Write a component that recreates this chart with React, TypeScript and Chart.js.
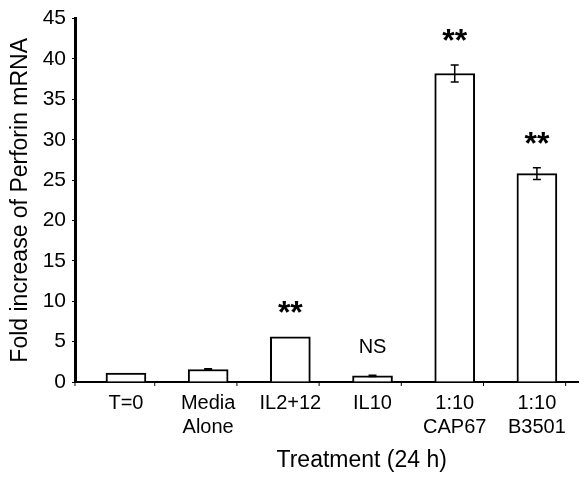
import React, { useEffect, useRef } from "react";
import { Chart, registerables } from "chart.js";

Chart.register(...registerables);

const categories: string[][] = [["T=0"], ["Media", "Alone"], ["IL2+12"], ["IL10"], ["1:10", "CAP67"], ["1:10", "B3501"]];
const foldValues: number[] = [1.1, 1.55, 5.6, 0.75, 38.2, 25.8];
const errorValues: number[] = [0, 0.08, 0, 0.08, 1.05, 0.72];
const significance: string[] = ["", "", "**", "NS", "**", "**"];
const yTicks: number[] = [0, 5, 10, 15, 20, 25, 30, 35, 40, 45];
const xTickMarks: number[] = [-0.62, 0.35, 1.35, 2.35, 3.35, 4.35, 5.35];
const xTitle = "Treatment (24 h)";

const FONT = "Arial, 'Liberation Sans', Helvetica, sans-serif";

const overlayPlugin = {
  id: "overlay",
  afterDatasetsDraw(chart: any) {
    const ctx = chart.ctx;
    const xs = chart.scales.x;
    const ys = chart.scales.y;
    const area = chart.chartArea;
    ctx.save();
    ctx.strokeStyle = "#000";
    ctx.fillStyle = "#000";
    // error bars
    ctx.lineWidth = 1.5;
    foldValues.forEach((v, i) => {
      const e = errorValues[i];
      if (!e) return;
      const x = xs.getPixelForValue(i);
      const yt = ys.getPixelForValue(v + e);
      const yb = ys.getPixelForValue(v - e);
      ctx.beginPath();
      ctx.moveTo(x, yt);
      ctx.lineTo(x, yb);
      ctx.moveTo(x - 4, yt);
      ctx.lineTo(x + 4, yt);
      ctx.moveTo(x - 4, yb);
      ctx.lineTo(x + 4, yb);
      ctx.stroke();
    });
    // x tick marks
    ctx.lineWidth = 1;
    const yBase = ys.getPixelForValue(0);
    xTickMarks.forEach((t) => {
      const x = xs.getPixelForValue(t);
      ctx.beginPath();
      ctx.moveTo(x, yBase);
      ctx.lineTo(x, yBase + 4);
      ctx.stroke();
    });
    // significance marks
    ctx.textAlign = "center";
    ctx.textBaseline = "middle";
    significance.forEach((s, i) => {
      if (!s) return;
      const x = xs.getPixelForValue(i);
      const y = ys.getPixelForValue(foldValues[i] + errorValues[i]);
      if (s === "NS") {
        ctx.font = `20px ${FONT}`;
        ctx.fillText(s, x, y - 28);
      } else {
        ctx.font = `bold 32px ${FONT}`;
        ctx.fillText(s, x, y - 23);
      }
    });
    // x axis title (offset right of centre, as in the original figure)
    ctx.font = `23px ${FONT}`;
    ctx.textBaseline = "middle";
    ctx.fillText(xTitle, area.left + (area.right - area.left) * 0.57, xs.bottom - 21);
    ctx.restore();
  },
};

export default function App() {
  const ref = useRef<HTMLCanvasElement | null>(null);
  useEffect(() => {
    document.body.style.margin = "0";
    if (!ref.current) return;
    const chart = new Chart(ref.current, {
      type: "bar",
      data: {
        datasets: [
          {
            data: foldValues.map((v, i) => ({ x: i, y: v })),
            backgroundColor: "#fff",
            borderColor: "#000",
            borderWidth: 2,
            borderSkipped: "bottom",
            barThickness: 40,
          },
        ],
      },
      options: {
        animation: false,
        responsive: false,
        maintainAspectRatio: false,
        layout: { padding: { top: 13, right: 6, left: 0, bottom: 0 } },
        plugins: { legend: { display: false }, tooltip: { enabled: false } },
        scales: {
          x: {
            type: "linear",
            offset: false,
            min: -0.62,
            max: 5.5,
            afterBuildTicks: (scale: any) => {
              scale.ticks = categories.map((_, i) => ({ value: i }));
            },
            afterFit: (scale: any) => {
              scale.height = 100;
            },
            ticks: {
              color: "#000",
              font: { family: FONT, size: 20 },
              padding: 9,
              maxRotation: 0,
              autoSkip: false,
              callback: (v: any) => categories[v as number] ?? "",
            },
            grid: { display: false, drawTicks: false },
            border: { display: true, color: "#000", width: 2 },
          },
          y: {
            min: 0,
            max: 45,
            afterBuildTicks: (scale: any) => {
              scale.ticks = yTicks.map((v) => ({ value: v }));
            },
            afterFit: (scale: any) => {
              scale.width = 75;
            },
            ticks: {
              color: "#000",
              font: { family: FONT, size: 21 },
              padding: 6,
            },
            grid: { drawOnChartArea: false, drawTicks: true, tickLength: 3, color: "#000" },
            border: { display: true, color: "#000", width: 3 },
            title: {
              display: true,
              text: "Fold increase of Perforin mRNA",
              color: "#000",
              font: { family: FONT, size: 23 },
              padding: { top: 7, bottom: 1 },
            },
          },
        },
      },
      plugins: [overlayPlugin],
    });
    return () => chart.destroy();
  }, []);
  return <canvas ref={ref} width={584} height={482} style={{ display: "block" }} />;
}
